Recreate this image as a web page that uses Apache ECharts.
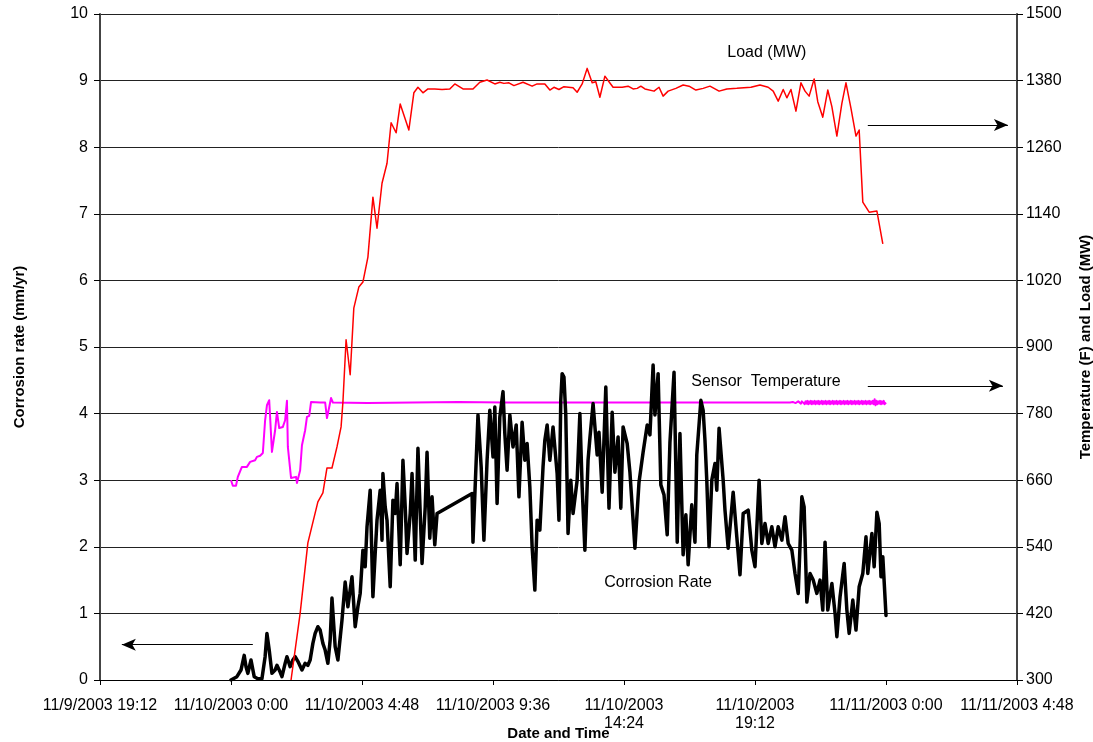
<!DOCTYPE html>
<html>
<head>
<meta charset="utf-8">
<script src="https://cdn.jsdelivr.net/npm/echarts@6/dist/echarts.min.js"></script>
<style>
  html, body { margin: 0; padding: 0; background: #fff; }
  #chart { width: 1093px; height: 742px; }
</style>
</head>
<body>
<div id="chart"></div>
<script>
// Time is in minutes after 11/10/2003 0:00; the axis runs in 4.8-hour steps.
const tickLabels = [
  '11/9/2003 19:12', '11/10/2003 0:00', '11/10/2003 4:48', '11/10/2003 9:36',
  '11/10/2003\n14:24', '11/10/2003\n19:12', '11/11/2003 0:00', '11/11/2003 4:48'
];

// Corrosion rate (mm/yr) readings: [minute, rate]
const corrosionRate = [
  [0,0.0],[13,0.05],[22,0.15],[29,0.37],[33,0.2],[37,0.1],[44,0.3],[51,0.05],[59,0.02],[68,0.02],
  [75,0.35],[79,0.7],[84,0.45],[90,0.1],[97,0.15],[101,0.22],[108,0.12],[112,0.05],[119,0.25],[123,0.35],
  [130,0.2],[136,0.3],[141,0.35],[147,0.28],[156,0.15],[163,0.25],[169,0.22],[174,0.3],[180,0.55],[185,0.7],
  [191,0.8],[196,0.75],[202,0.55],[207,0.45],[213,0.25],[218,0.6],[222,1.23],[229,0.5],[235,0.3],[244,0.9],
  [251,1.47],[257,1.1],[262,1.35],[266,1.55],[273,0.8],[279,1.1],[284,1.3],[290,1.95],[295,1.7],[299,2.3],
  [306,2.85],[312,1.25],[317,1.9],[321,2.4],[328,2.85],[332,2.1],[334,3.1],[339,2.6],[343,2.4],[350,1.4],
  [356,2.7],[361,2.5],[365,2.95],[372,1.73],[378,3.3],[383,2.6],[387,1.9],[394,2.5],[398,3.1],[405,1.8],
  [411,3.48],[416,2.5],[420,1.75],[427,2.6],[431,3.42],[437,2.13],[442,2.75],[448,2.03],[453,2.5],
  [530,2.8],[532,2.07],[543,3.98],[550,3.2],[556,2.1],[563,3.3],[569,4.05],[576,3.35],[580,4.1],[585,2.65],
  [591,3.95],[598,4.33],[602,3.7],[607,3.15],[613,3.98],[620,3.5],[627,3.83],[633,2.75],[640,3.87],[646,3.3],
  [651,3.55],[657,2.9],[662,2.0],[668,1.35],[673,2.4],[679,2.25],[686,3.2],[690,3.6],[695,3.83],[701,3.3],
  [708,3.8],[717,3.1],[721,2.4],[725,4.2],[728,4.6],[732,4.55],[736,3.98],[741,2.2],[747,3.0],[752,2.5],
  [761,3.0],[767,4.0],[772,2.9],[778,1.95],[785,3.3],[789,3.63],[796,4.15],[805,3.38],[809,3.72],[816,2.82],
  [824,4.4],[831,2.58],[838,4.02],[844,3.12],[851,3.65],[857,2.58],[862,3.8],[871,3.55],[877,3.12],[888,1.98],
  [897,2.97],[906,3.42],[915,3.83],[921,3.68],[928,4.73],[932,3.98],[939,4.6],[945,2.93],[952,2.78],[959,2.18],
  [965,3.57],[974,4.62],[981,2.07],[987,3.7],[994,1.88],[1000,2.48],[1005,1.73],[1013,2.63],[1020,2.07],[1024,3.38],
  [1033,4.2],[1038,4.05],[1042,3.6],[1046,3.0],[1051,2.0],[1057,3.0],[1064,3.25],[1068,2.85],[1073,3.78],[1082,3.0],
  [1086,2.55],[1093,1.98],[1104,2.82],[1112,2.15],[1119,1.58],[1126,2.5],[1137,2.55],[1145,1.95],[1152,1.7],[1161,3.0],
  [1167,2.05],[1174,2.35],[1181,2.05],[1189,2.3],[1196,2.0],[1203,2.3],[1211,2.1],[1218,2.45],[1225,2.05],[1233,1.95],
  [1240,1.6],[1247,1.3],[1255,2.75],[1260,2.6],[1266,1.17],[1273,1.6],[1280,1.5],[1288,1.3],[1295,1.5],[1301,1.05],
  [1306,2.07],[1312,1.05],[1321,1.45],[1328,1.0],[1332,0.65],[1339,1.25],[1348,1.75],[1354,1.05],[1359,0.7],[1367,1.2],
  [1374,0.75],[1381,1.4],[1389,1.6],[1396,2.15],[1400,1.6],[1409,2.2],[1414,1.7],[1420,2.52],[1425,2.35],[1429,1.55],
  [1433,1.85],[1440,0.97]
];

// Unit load (MW): [minute, load]
const loadMW = [
  [132,300],[152,420],[169,547],[191,621],[202,637],[211,682],[222,682],[233,720],[242,756],[246,800],
  [253,913],[262,850],[270,970],[281,1008],[290,1017],[301,1062],[312,1170],[321,1114],[332,1195],[343,1231],
  [352,1304],[363,1286],[372,1338],[391,1291],[402,1358],[411,1368],[422,1358],[433,1365],[448,1365],[464,1364],
  [481,1365],[492,1374],[510,1365],[532,1365],[547,1377],[563,1381],[580,1374],[591,1377],[600,1375],[611,1376],
  [622,1371],[642,1377],[662,1370],[673,1374],[690,1374],[701,1363],[710,1368],[721,1364],[732,1369],[752,1367],
  [761,1359],[772,1374],[783,1402],[794,1376],[802,1378],[811,1350],[822,1388],[831,1378],[840,1368],[860,1368],
  [873,1370],[884,1365],[893,1366],[901,1370],[910,1365],[930,1361],[941,1368],[950,1352],[961,1361],[978,1366],
  [994,1372],[1007,1370],[1022,1363],[1038,1366],[1053,1370],[1073,1361],[1090,1365],[1112,1366],[1143,1368],[1163,1372],
  [1181,1368],[1192,1361],[1203,1343],[1214,1364],[1222,1349],[1231,1364],[1242,1325],[1253,1376],[1262,1361],[1271,1352],
  [1282,1383],[1290,1342],[1301,1314],[1312,1363],[1321,1333],[1332,1280],[1343,1339],[1352,1376],[1363,1330],[1374,1280],
  [1381,1291],[1389,1161],[1403,1143],[1420,1145],[1433,1086]
];

// Sensor temperature (F): [minute, temperature]
const sensorTempF = [
  [0,660],[4,650],[11,650],[15,666],[24,684],[35,684],[42,693],[46,696],[53,696],[57,702],
  [64,704],[70,709],[75,768],[79,795],[84,804],[86,774],[90,711],[97,750],[101,783],[106,754],
  [114,756],[119,768],[123,803],[125,720],[132,664],[136,662],[143,666],[145,655],[152,678],[156,723],
  [163,750],[167,774],[172,776],[176,801],[180,800],[196,800],[207,800],[211,772],[215,772],[220,808],
  [224,800],[300,799],[400,800],[500,801],[600,800],[700,800],[800,800],[900,800],[1000,800],[1100,800],
  [1200,800],[1229,800],
  [1231,802],[1233,799],[1235,801],[1237,798],[1239,802],[1241,799],[1243,801],[1245,798],[1247,802],[1249,799],
  [1251,803],[1253,798],[1255,802],[1257,799],[1259,803],[1261,797],[1263,802],[1265,798],[1267,803],[1269,797],
  [1271,802],[1273,798],[1275,803],[1277,797],[1279,802],[1281,798],[1283,803],[1285,797],[1287,802],[1289,798],
  [1291,803],[1293,797],[1295,802],[1297,798],[1299,803],[1301,797],[1303,802],[1305,798],[1307,803],[1309,797],
  [1311,802],[1313,798],[1315,803],[1317,797],[1319,802],[1321,798],[1323,803],[1325,797],[1327,802],[1329,798],
  [1331,803],[1333,797],[1335,802],[1337,798],[1339,803],[1341,797],[1343,802],[1345,798],[1347,803],[1349,797],
  [1351,802],[1353,798],[1355,803],[1357,797],[1359,802],[1361,798],[1363,803],[1365,797],[1367,802],[1369,798],
  [1371,803],[1373,797],[1375,802],[1377,798],[1379,803],[1381,797],[1383,802],[1385,798],[1387,803],[1389,797],
  [1391,802],[1393,798],[1395,803],[1397,797],[1399,802],[1401,798],[1403,803],[1405,797],[1407,802],[1409,798],
  [1411,803],[1413,797],[1415,806],[1417,795],[1419,803],[1421,797],[1423,802],[1425,798],[1427,803],[1429,797],
  [1431,802],[1433,798],[1435,803],[1437,797],[1440,800]
];

// Series captions: [text, minute, value, yAxisIndex]
const captions = [
  ['Load (MW)', 1178, 1430, 1],
  ['Sensor  Temperature', 1176, 838, 1],
  ['Corrosion Rate', 939, 1.47, 0]
];

const FONT = '"Liberation Sans", Arial, Helvetica, sans-serif';
const chart = echarts.init(document.getElementById('chart'), null, { renderer: 'canvas' });

const arrowLine = (from, to) => ({
  silent: true,
  symbol: ['none', 'arrow'],
  symbolSize: [9, 14],
  label: { show: false },
  lineStyle: { color: '#000', width: 1, type: 'solid' },
  emphasis: { disabled: true },
  animation: false,
  data: [[{ coord: from }, { coord: to }]]
});

const axisName = { fontFamily: FONT, fontWeight: 'bold', fontSize: 15, color: '#000' };

const option = {
  animation: false,
  backgroundColor: '#fff',
  textStyle: { fontFamily: FONT },
  grid: { left: 100, right: 76, top: 14, bottom: 62, containLabel: false, outerBoundsMode: 'none' },
  xAxis: {
    type: 'value',
    min: -288, max: 1728, interval: 288,
    name: 'Date and Time',
    nameLocation: 'middle',
    nameGap: 46,
    nameMoveOverlap: false,
    nameTextStyle: axisName,
    axisLine: { show: true, onZero: false, lineStyle: { color: '#000', width: 1 } },
    axisTick: { show: true, inside: false, length: 5, lineStyle: { color: '#000' } },
    splitLine: { show: false },
    axisLabel: {
      margin: 17,
      fontFamily: FONT, fontSize: 16, color: '#000', lineHeight: 18,
      formatter: v => tickLabels[Math.round((v + 288) / 288)] || ''
    }
  },
  yAxis: [
    {
      type: 'value', min: 0, max: 10, interval: 1, position: 'left',
      name: 'Corrosion rate (mm/yr)',
      nameLocation: 'middle', nameRotate: 90, nameGap: 73, nameMoveOverlap: false,
      nameTextStyle: axisName,
      axisLine: { show: true, onZero: false, lineStyle: { color: '#444', width: 2 } },
      axisTick: { show: true, inside: false, length: 6, lineStyle: { color: '#000' } },
      axisLabel: { margin: 12, fontFamily: FONT, fontSize: 16, color: '#000', formatter: v => String(v) },
      splitLine: { show: true, lineStyle: { color: '#222', width: 1 } }
    },
    {
      type: 'value', min: 300, max: 1500, interval: 120, position: 'right',
      name: 'Temperature (F) and Load (MW)',
      nameLocation: 'middle', nameRotate: 90, nameGap: 61, nameMoveOverlap: false,
      nameTextStyle: axisName,
      axisLine: { show: true, onZero: false, lineStyle: { color: '#444', width: 2 } },
      axisTick: { show: true, inside: false, length: 6, lineStyle: { color: '#000' } },
      axisLabel: { margin: 9, fontFamily: FONT, fontSize: 16, color: '#000', formatter: v => String(v) },
      splitLine: { show: false }
    }
  ],
  series: [
    {
      name: 'Sensor Temperature', type: 'line', yAxisIndex: 1,
      data: sensorTempF, showSymbol: false, symbol: 'none',
      lineStyle: { color: '#ff00ff', width: 2, join: 'round' },
      markLine: arrowLine([1400, 830], [1697, 830])
    },
    {
      name: 'Corrosion Rate', type: 'line', yAxisIndex: 0,
      data: corrosionRate, showSymbol: false, symbol: 'none',
      lineStyle: { color: '#000', width: 3.5, join: 'round', cap: 'round' },
      markLine: arrowLine([48, 0.53], [-240, 0.53])
    },
    {
      name: 'Load (MW)', type: 'line', yAxisIndex: 1,
      data: loadMW, showSymbol: false, symbol: 'none',
      lineStyle: { color: '#ff0000', width: 1.5, join: 'round' },
      markLine: arrowLine([1400, 1300], [1708, 1300])
    }
  ]
};

chart.setOption(option);

// Series captions placed in data space
chart.setOption({
  graphic: captions.map(([text, t, v, yi]) => {
    const [px, py] = chart.convertToPixel({ xAxisIndex: 0, yAxisIndex: yi }, [t, v]);
    return {
      type: 'text', x: px, y: py, silent: true,
      style: { text, fill: '#000', font: '16px ' + FONT, align: 'center', verticalAlign: 'middle' }
    };
  })
});
</script>
</body>
</html>
